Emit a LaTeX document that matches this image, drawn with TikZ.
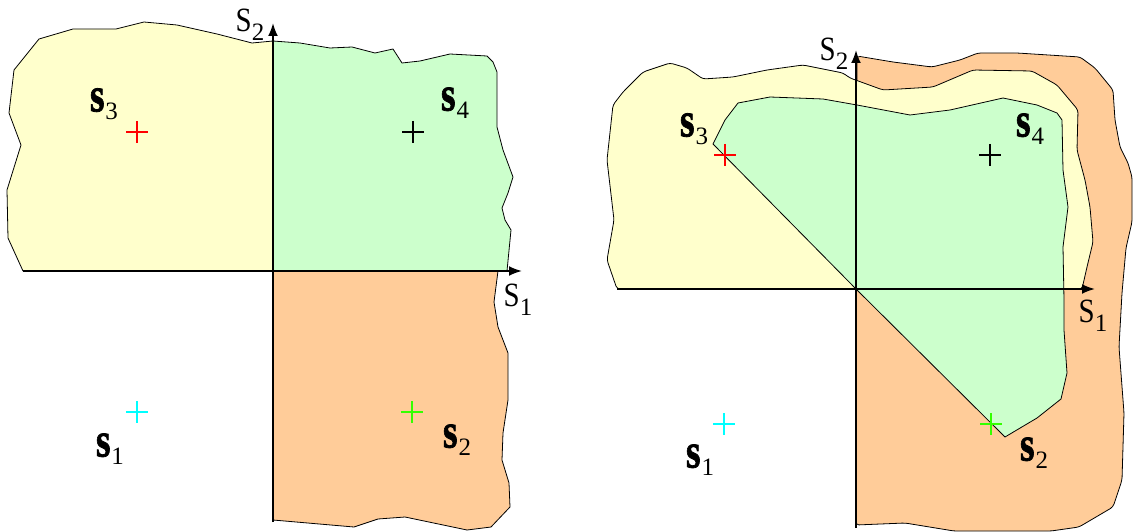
\documentclass[tikz,border=0pt]{standalone}
\usepackage{fontspec}
\setmainfont{Liberation Serif}
\newfontfamily\heavyfont{Liberation Serif Bold}[FakeBold=1.6]
\usepackage{tikz}
\usetikzlibrary{arrows.meta, positioning}
\definecolor{regionYellow}{HTML}{FFFFCC}
\definecolor{regionGreen}{HTML}{CCFFCC}
\definecolor{regionOrange}{HTML}{FFCC99}
\definecolor{markGreen}{HTML}{33FF00}
\definecolor{markCyan}{HTML}{00FFFF}
\newcommand{\veclab}[1]{\scalebox{0.76}[1]{\fontsize{49pt}{49pt}\heavyfont s}\kern1pt\raisebox{-8pt}{\fontsize{25pt}{25pt}\selectfont #1}}
\newcommand{\axislab}[1]{\scalebox{0.85}[1]{\fontsize{34pt}{34pt}\selectfont S}\raisebox{-9pt}{\fontsize{25pt}{25pt}\selectfont #1}}

\begin{document}
\begin{tikzpicture}[x=1pt, y=-1pt,
  region/.style={draw=black, line width=0.8pt, line join=round},
  axis/.style={draw=black, line width=2pt, -{Latex[length=13pt, width=10pt]}},
  lbl/.style={inner sep=0pt, anchor=center},
  crossmark/.pic={\draw[line width=1.3pt] (-11,0) -- (11,0) (0,-11) -- (0,11);}]
  \useasboundingbox (0,0) rectangle (1133,532);

  % left: separate quadrants
  \draw[region, fill=regionYellow] (23,271) -- (8,238) -- (7,190) -- (21,145) -- (9,113) -- (14,70) -- (39,39) -- (73,29) -- (116,29) -- (144,22) -- (177,25) -- (217,34) -- (252,43) -- (273,41) -- (273,271) -- cycle;
  \draw[region, fill=regionGreen] (273,41) -- (300,43) -- (330,48) -- (352,47) -- (375,53) -- (393,49) -- (402,63) -- (420,61) -- (450,54) -- (487,56) -- (493,62) -- (497,72) -- (497,127) -- (503,150) -- (513,177) -- (508,193) -- (502,208) -- (505,220) -- (511,230) -- (507,271) -- (273,271) -- cycle;
  \draw[region, fill=regionOrange] (273,271) -- (498,271) -- (494,302) -- (498,327) -- (508,353) -- (508,400) -- (503,433) -- (502,460) -- (509,483) -- (510,507) -- (491,527) -- (467,530) -- (405,517) -- (378,519) -- (354,527) -- (273,520) -- cycle;
  \coordinate (o1) at (273,271);
  \coordinate (x1) at (522,271);
  \coordinate (y1) at (273,23);
  \draw[axis] (23,271) -- (x1);
  \draw[axis] (273,522) -- (y1);
  \node[lbl] (s2axisL) at (250,25) {\axislab{2}};
  \node[lbl] (s1axisL) at (518,300) {\axislab{1}};
  \pic[red] at (137,132) {crossmark};
  \pic[black] at (413,132) {crossmark};
  \pic[markCyan] at (137,412) {crossmark};
  \pic[markGreen] at (412,412) {crossmark};
  \node[lbl] (s3L) at (104,104) {\veclab{3}};
  \node[lbl] (s4L) at (455,103) {\veclab{4}};
  \node[lbl] (s1L) at (110,449) {\veclab{1}};
  \node[lbl] (s2L) at (457,440) {\veclab{2}};

  % right: nested regions
  \draw[region, fill=regionOrange, rounded corners=3pt] (857,56) -- (893,62) -- (932,67) -- (960,60) -- (978,53) -- (1017,53) -- (1080,57) -- (1095,68) -- (1113,90) -- (1115,120) -- (1120,147) -- (1128,163) -- (1132,177) -- (1132,222) -- (1126,248) -- (1122,293) -- (1119,347) -- (1124,413) -- (1122,480) -- (1113,507) -- (1079,527) -- (1051,531) -- (954,531) -- (905,523) -- (856,525) -- cycle;
  \draw[region, fill=regionYellow, rounded corners=3pt] (617,289) -- (607,260) -- (614,220) -- (607,160) -- (613,105) -- (623,92) -- (643,72) -- (670,63) -- (687,68) -- (703,79) -- (733,77) -- (767,70) -- (803,65) -- (843,73) -- (850,78) -- (883,90) -- (933,87) -- (973,70) -- (1032,71) -- (1057,85) -- (1078,110) -- (1077,150) -- (1085,180) -- (1090,207) -- (1093,242) -- (1087,267) -- (1082,289) -- cycle;
  \draw[region, fill=regionGreen] (713,144) -- (725,120) -- (738,103) -- (770,97) -- (823,99) -- (857,105) -- (910,115) -- (950,110) -- (1003,98) -- (1037,105) -- (1057,113) -- (1062,120) -- (1063,170) -- (1068,207) -- (1063,247) -- (1064,300) -- (1064,330) -- (1067,373) -- (1061,399) -- (1037,418) -- (1005,437) -- (856,289) -- cycle;
  \coordinate (o2) at (856,289);
  \coordinate (x2) at (1095,289);
  \coordinate (y2) at (856,50);
  \draw[axis] (617,289) -- (x2);
  \draw[axis] (856,528) -- (y2);
  \node[lbl] (s2axisR) at (834,54) {\axislab{2}};
  \node[lbl] (s1axisR) at (1093,316) {\axislab{1}};
  \pic[red] at (725,155) {crossmark};
  \pic[black] at (990,155) {crossmark};
  \pic[markCyan] at (724,424) {crossmark};
  \pic[markGreen] at (991,424) {crossmark};
  \node[lbl] (s3R) at (694,129) {\veclab{3}};
  \node[lbl] (s4R) at (1030,129) {\veclab{4}};
  \node[lbl] (s1R) at (700,460) {\veclab{1}};
  \node[lbl] (s2R) at (1034,453) {\veclab{2}};
\end{tikzpicture}
\end{document}
